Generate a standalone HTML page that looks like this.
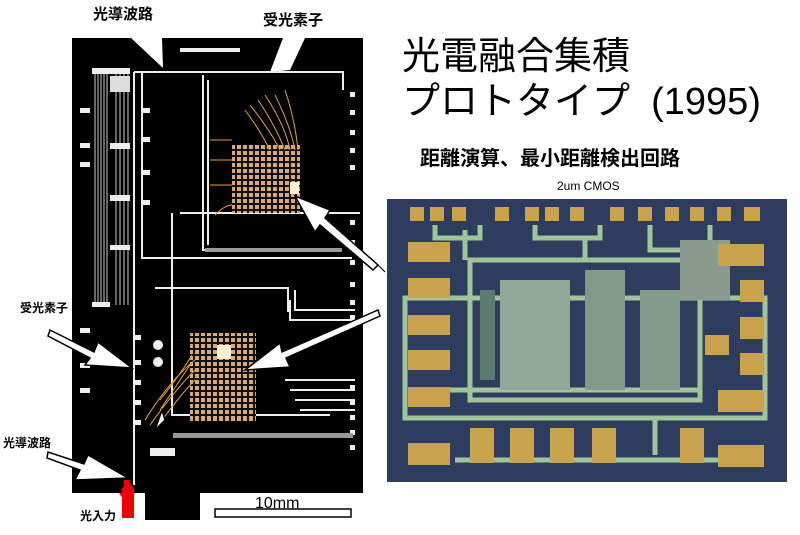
<!DOCTYPE html>
<html><head><meta charset="utf-8"><style>
body{margin:0;background:#fff;width:800px;height:535px;overflow:hidden;position:relative;font-family:"Liberation Sans","Noto Sans CJK JP",sans-serif}
.t{position:absolute;white-space:nowrap;color:#000}
</style></head><body>
<svg width="800" height="535" style="position:absolute;left:0;top:0">
<!-- left board -->
<rect x="72" y="38" width="291" height="455" fill="#000"/>
<rect x="145" y="490" width="55" height="30" fill="#000"/>
<polygon points="131,38 162,38 163,68" fill="#fff"/>
<polygon points="283,38 305,38 290,70 270,72" fill="#fff"/>
<g fill="none" stroke="#eee" stroke-width="2">
<path d="M134 72 V485"/>
<path d="M134 72 H343 V90"/>
<path d="M142 72 V258 H352"/>
<path d="M203 75 V250 H340"/>
<path d="M208 80 V245"/>
<path d="M155 288 H288 V312"/>
<path d="M180 213 H360"/>
<path d="M172 213 V415 H330"/>
<path d="M285 380 H355 M290 390 H355 M295 400 H355 M300 410 H355"/>
<path d="M290 300 V320 H355 M295 290 V310 H355"/>
</g>
<g stroke="#ccc" stroke-width="1">
<path d="M95 70 V305 M98 70 V305 M101 70 V305 M104 70 V305 M107 70 V305 M116 70 V305 M120 70 V305 M124 70 V305 M128 70 V305"/>
</g>
<g fill="#eee">
<rect x="92" y="68" width="38" height="6"/><rect x="110" y="76" width="20" height="16" fill="#ddd"/>
<rect x="92" y="302" width="18" height="5"/>
<rect x="80" y="108" width="10" height="5"/><rect x="80" y="143" width="10" height="5"/><rect x="80" y="162" width="10" height="5"/>
<rect x="80" y="328" width="10" height="5"/><rect x="80" y="363" width="10" height="5"/><rect x="80" y="388" width="10" height="5"/>
<rect x="142" y="108" width="8" height="5"/><rect x="142" y="137" width="8" height="5"/><rect x="142" y="170" width="8" height="5"/><rect x="142" y="200" width="8" height="5"/>
<rect x="110" y="143" width="20" height="6"/><rect x="110" y="195" width="20" height="6"/><rect x="110" y="245" width="20" height="5"/>
<rect x="350" y="92" width="5" height="5"/><rect x="350" y="110" width="5" height="5"/><rect x="350" y="130" width="5" height="5"/><rect x="350" y="148" width="5" height="5"/><rect x="350" y="165" width="5" height="5"/>
<rect x="350" y="220" width="5" height="5"/><rect x="350" y="240" width="5" height="5"/><rect x="350" y="260" width="5" height="5"/><rect x="350" y="282" width="5" height="5"/><rect x="350" y="300" width="5" height="5"/><rect x="350" y="315" width="5" height="5"/>
<rect x="350" y="385" width="5" height="5"/><rect x="350" y="400" width="5" height="5"/><rect x="350" y="415" width="5" height="5"/><rect x="350" y="430" width="5" height="5"/><rect x="350" y="445" width="5" height="5"/>
<rect x="135" y="335" width="6" height="5"/><rect x="135" y="360" width="6" height="5"/><rect x="135" y="380" width="6" height="5"/><rect x="135" y="400" width="6" height="5"/><rect x="135" y="420" width="6" height="5"/>
<rect x="150" y="448" width="25" height="8"/>
<circle cx="158" cy="345" r="5"/><circle cx="158" cy="362" r="5"/>
<rect x="180" y="48" width="60" height="4"/>
</g>
<rect x="173" y="433" width="180" height="5" fill="#999"/>
<rect x="205" y="248" width="137" height="4" fill="#999"/>
<!-- chips -->
<rect x="232" y="145" width="68" height="68" fill="#d9a878"/>
<g stroke="#111" stroke-width="2">
<path d="M236 145V213M242 145V213M248 145V213M254 145V213M260 145V213M266 145V213M272 145V213M278 145V213M284 145V213M290 145V213M296 145V213"/>
<path d="M232 150H300M232 156H300M232 162H300M232 168H300M232 174H300M232 180H300M232 186H300M232 192H300M232 198H300M232 204H300M232 210H300"/>
</g>
<rect x="290" y="182" width="9" height="12" fill="#fff0d0"/>
<rect x="190" y="333" width="66" height="88" fill="#d9a878"/>
<g stroke="#111" stroke-width="2">
<path d="M194 333V421M200 333V421M206 333V421M212 333V421M218 333V421M224 333V421M230 333V421M236 333V421M242 333V421M248 333V421M254 333V421"/>
<path d="M190 337H256M190 343H256M190 349H256M190 355H256M190 361H256M190 367H256M190 373H256M190 379H256M190 385H256M190 391H256M190 397H256M190 403H256M190 409H256M190 415H256"/>
</g>
<rect x="217" y="345" width="14" height="14" fill="#fff0d0"/>
<g stroke="#e0a040" stroke-width="1" fill="none">
<path d="M250 105 Q270 130 280 150M258 100 Q275 125 285 150M265 95 Q285 125 290 150M275 95 Q290 125 295 150M245 110 Q260 130 270 150M285 90 Q295 120 298 150"/>
<path d="M145 420 Q170 380 195 360M150 425 Q175 390 195 370M155 430 Q180 395 195 380M160 410 Q180 380 190 365M160 400 Q180 375 192 355"/>
<path d="M210 140 H232 M210 160 H232 M210 185 H232 M215 215 Q225 205 232 205"/>
</g>
<!-- arrows -->
<g fill="#fff" stroke="#000" stroke-width="1.5">
<polygon points="295,196 330,210 325,218 378,265 373,270 320,225 315,232"/>
<polygon points="245,370 280,343 282,352 378,310 380,316 286,358 290,367"/>
<polygon points="132,368 98,342 94,352 50,330 48,336 90,358 85,365"/>
<polygon points="128,478 88,455 84,464 48,452 47,458 80,470 75,480"/>
<polygon points="155,430 162,410 165,420"/>
</g>
<line x1="378" y1="265" x2="385" y2="272" stroke="#000"/>
<polygon points="124,480 130,480 130,493 135,493 127,505 119,493 124,493" fill="#e00"/>
<rect x="122" y="490" width="12" height="28" fill="#e00"/>
<polygon points="121,490 135,490 128,480" fill="#e00"/>
<rect x="215" y="509" width="136" height="8" fill="#fff" stroke="#000" stroke-width="1.5"/>
<!-- right chip -->
<rect x="387" y="199" width="400" height="283" fill="#2e3d5e"/>
<g fill="none" stroke="#9fc49a" stroke-width="5">
<rect x="405" y="298" width="360" height="120"/>
<rect x="470" y="260" width="230" height="140"/>
<path d="M435 225 V238 H480 V225 M535 225 V238 H600 V225 M650 225 V250 H710 V225"/>
<path d="M440 390 H700 M655 418 V455 M455 460 H720 M465 230 V260 M585 240 V260"/>
</g>
<rect x="500" y="280" width="70" height="110" fill="#8fa898"/>
<rect x="585" y="270" width="40" height="120" fill="#7f9a88"/>
<rect x="640" y="290" width="40" height="100" fill="#7f9a88"/>
<rect x="680" y="240" width="50" height="60" fill="#8a9a8e"/>
<rect x="480" y="290" width="15" height="90" fill="#5c7a70"/>
<g fill="#c8a24f">
<rect x="410" y="207" width="14" height="14"/><rect x="430" y="207" width="14" height="14"/><rect x="452" y="207" width="14" height="14"/><rect x="495" y="207" width="14" height="14"/>
<rect x="525" y="207" width="14" height="14"/><rect x="545" y="207" width="14" height="14"/><rect x="570" y="207" width="14" height="14"/><rect x="610" y="207" width="14" height="14"/>
<rect x="638" y="207" width="14" height="14"/><rect x="665" y="207" width="14" height="14"/><rect x="690" y="207" width="14" height="14"/><rect x="717" y="207" width="14" height="14"/><rect x="744" y="207" width="16" height="14"/>
<rect x="408" y="242" width="42" height="20"/><rect x="408" y="278" width="42" height="20"/><rect x="408" y="315" width="42" height="20"/><rect x="408" y="350" width="42" height="20"/><rect x="408" y="387" width="42" height="20"/><rect x="408" y="443" width="42" height="22"/>
<rect x="718" y="244" width="46" height="22"/><rect x="740" y="280" width="24" height="22"/><rect x="740" y="317" width="24" height="22"/><rect x="705" y="335" width="24" height="20"/><rect x="740" y="353" width="24" height="22"/><rect x="718" y="390" width="46" height="22"/><rect x="718" y="445" width="46" height="22"/>
<rect x="470" y="428" width="24" height="35"/><rect x="510" y="428" width="24" height="35"/><rect x="550" y="428" width="24" height="35"/><rect x="592" y="428" width="24" height="35"/><rect x="680" y="428" width="24" height="35"/>
</g>
</svg>
<div class="t" style="left:93px;top:3px;font-size:15px;font-weight:bold">光導波路</div>
<div class="t" style="left:263px;top:9px;font-size:15px;font-weight:bold">受光素子</div>
<div class="t" style="left:20px;top:299px;font-size:12px;font-weight:bold">受光素子</div>
<div class="t" style="left:3px;top:434px;font-size:12px;font-weight:bold">光導波路</div>
<div class="t" style="left:80px;top:507px;font-size:12px;font-weight:bold">光入力</div>
<div class="t" style="left:255px;top:495px;font-size:16px">10mm</div>
<div class="t" style="left:402px;top:35px;font-size:38px;line-height:44px">光電融合集積</div>
<div class="t" style="left:402px;top:80px;font-size:38px;line-height:44px">プロトタイプ&nbsp;&nbsp;(1995)</div>
<div class="t" style="left:420px;top:142px;font-size:20px;font-weight:bold">距離演算、最小距離検出回路</div>
<div class="t" style="left:557px;top:179px;font-size:12px">2um CMOS</div>
</body></html>
